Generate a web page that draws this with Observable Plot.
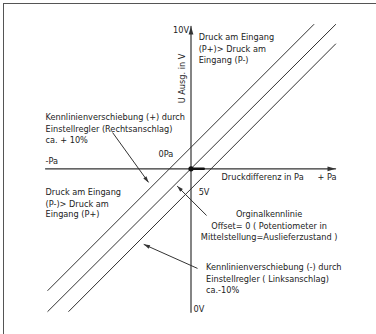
<!DOCTYPE html>
<html><head><meta charset="utf-8">
<script src="https://cdn.jsdelivr.net/npm/d3@7"></script>
<script src="https://cdn.jsdelivr.net/npm/@observablehq/plot@0.6"></script>
<style>
html,body{margin:0;padding:0;background:#fff;}
#wrap{position:relative;width:376px;height:334px;overflow:hidden;}
#wrap svg{position:absolute;left:0;top:0;}
#frame{position:absolute;left:2.5px;top:2.5px;width:420px;height:420px;border-left:1.5px solid #555;border-top:1.5px solid #555;}
</style></head><body><div id="wrap"><div id="frame"></div></div>
<script>
// ---- data (x: pressure difference, arbitrary units; y: output voltage in V) ----
const seriesNames = ["+10%", "Original", "-10%"];
const lineX = [[-5.06, 4.34], [-5.06, 5.11], [-4.32, 5.11]];
const lineY = [[0.70, 10.10], [-0.04, 10.10], [-0.04, 9.41]];

const axisXRange = [-5.14, 5.11];   // horizontal axis extent, at 5 V
const axisYRange = [-0.07, 10.03];  // vertical axis extent, at 0 Pa
const zeroPa = 0, zeroV = 5;
const zeroMarkEnd = 0.45;

// annotation leader lines (from label to characteristic)
const annFromX = [-2.77, 0.55, 0.23];
const annFromY = [6.28, 3.35, 1.48];
const annToX = [-1.50, -0.49, -1.67];
const annToY = [4.52, 4.39, 2.33];

// texts
const labelText = [
  "Druck am Eingang", "(P+)> Druck am", "Eingang (P-)",
  "Kennlinienverschiebung (+) durch", "Einstellregler (Rechtsanschlag)", "ca. + 10%",
  "-Pa", "0Pa",
  "Druck am Eingang", "(P-)> Druck am", "Eingang (P+)",
  "Druckdifferenz in Pa", "+ Pa", "5V",
  "Orginalkennlinie", "Offset= 0 ( Potentiometer in", "Mittelstellung=Auslieferzustand )",
  "Kennlinienverschiebung (-) durch", "Einstellregler ( Linksanschlag)", "ca.-10%",
  "0V", "10V"
];
const labelX = [0.27,0.27,0.27, -5.14,-5.14,-5.14, -5.14,-1.15, -5.14,-5.14,-5.14, 1.08,4.47,0.27, 2.76,2.76,2.76, 0.53,0.53,0.53, 0.09,-0.07];
const labelY = [9.64,9.23,8.83, 6.81,6.41,6.00, 5.29,5.52, 4.16,3.77,3.39, 4.71,4.71,4.16, 3.40,2.98,2.57, 1.54,1.12,0.71, 0.03,9.90];
const labelAnchor = ["start","start","start","start","start","start","start","start","start","start","start","start","start","start","middle","middle","middle","start","start","start","start","end"];
const yTitle = "U Ausg. in V";
const yTitleX = -0.30, yTitleY = 8.19;

// ---- build ----
const lines = seriesNames.flatMap((s, i) => lineX[i].map((x, j) => ({s, x, y: lineY[i][j]})));
const labels = labelText.map((t, i) => ({t, x: labelX[i], y: labelY[i], a: labelAnchor[i]}));
const anns = annFromX.map((x1, i) => ({x1, y1: annFromY[i], x2: annToX[i], y2: annToY[i],
  angle: Math.atan2(-(annToY[i] - annFromY[i]), annToX[i] - x1) * 180 / Math.PI}));
const axisHeads = [
  {x: axisXRange[1], y: zeroV, angle: 0},
  {x: zeroPa, y: axisYRange[1], angle: -90}
];
const arrowSym = (L, W) => ({draw(ctx, size) {
  const s = Math.sqrt(size / Math.PI);
  ctx.moveTo(0, 0); ctx.lineTo(-L * s, -W * s); ctx.lineTo(-L * s, W * s); ctx.closePath();
}});
const font = "'DejaVu Sans Condensed', 'Liberation Sans Narrow', sans-serif";
const ink = "#333";
const fs = 9.1;
const textOpts = a => ({x: "x", y: "y", text: "t", textAnchor: a, lineAnchor: "middle", fontSize: fs, fill: "#222", fontFamily: font});

const chart = Plot.plot({
  width: 376, height: 334,
  marginLeft: 49, marginRight: 44, marginTop: 26.8, marginBottom: 24.2,
  x: {domain: [-5, 5], axis: null},
  y: {domain: [0, 10], axis: null},
  style: {fontFamily: font, background: "transparent", overflow: "visible"},
  marks: [
    Plot.line(lines, {x: "x", y: "y", z: "s", stroke: ink, strokeWidth: 1}),
    Plot.line(axisXRange.map(x => ({x, y: zeroV})), {x: "x", y: "y", stroke: ink, strokeWidth: 1.2}),
    Plot.line(axisYRange.map(y => ({x: zeroPa, y})), {x: "x", y: "y", stroke: ink, strokeWidth: 1.2}),
    Plot.line([{x: zeroPa, y: zeroV}, {x: zeroMarkEnd, y: zeroV}], {x: "x", y: "y", stroke: "#111", strokeWidth: 2.5}),
    Plot.dot([{x: zeroPa, y: zeroV}], {x: "x", y: "y", r: 2.6, fill: "#111"}),
    Plot.link(anns, {x1: "x1", y1: "y1", x2: "x2", y2: "y2", stroke: ink, strokeWidth: 1}),
    Plot.dot(anns, {x: "x2", y: "y2", rotate: "angle", r: 2.4, symbol: arrowSym(2.6, 0.8), fill: ink, stroke: "none"}),
    Plot.dot(axisHeads, {x: "x", y: "y", rotate: "angle", r: 3, symbol: arrowSym(2.7, 0.8), fill: ink, stroke: "none"}),
    Plot.text(labels.filter(d => d.a === "start"), textOpts("start")),
    Plot.text(labels.filter(d => d.a === "middle"), textOpts("middle")),
    Plot.text(labels.filter(d => d.a === "end"), textOpts("end")),
    Plot.text([{t: yTitle, x: yTitleX, y: yTitleY}], {x: "x", y: "y", text: "t", rotate: -90, fontSize: fs, fill: "#222", fontFamily: font})
  ]
});
document.getElementById("wrap").appendChild(chart);
</script>
</body></html>
